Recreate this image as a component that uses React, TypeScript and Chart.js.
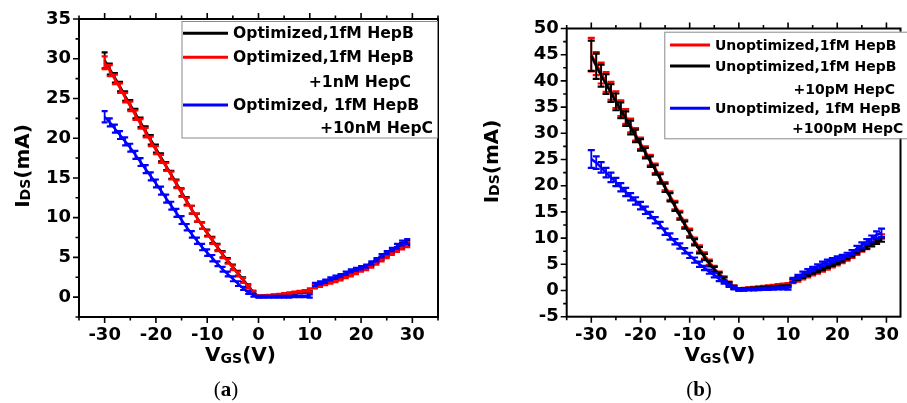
import React, { useEffect, useRef } from 'react';
import { Chart, registerables } from 'chart.js';
Chart.register(...registerables);

// ---------------- data ----------------
const VGS_1 = [-30, -29, -28, -27, -26, -25, -24, -23, -22, -21, -20, -19, -18, -17, -16, -15, -14, -13, -12, -11, -10, -9, -8, -7, -6, -5, -4, -3, -2, -1, 0, 1, 2, 3, 4, 5, 6, 7, 8, 9, 10];
const VGS_2 = [11, 12, 13, 14, 15, 16, 17, 18, 19, 20, 21, 22, 23, 24, 25, 26, 27, 28, 29];
const VGS_GAP = 10.5;

const X_TICKS = [-30, -20, -10, 0, 10, 20, 30];
const Y_TICKS_A = [0, 5, 10, 15, 20, 25, 30, 35];
const Y_TICKS_B = [-5, 0, 5, 10, 15, 20, 25, 30, 35, 40, 45, 50];

// Panel (a)
const A_BLACK_1 = [29.8, 28.7, 27.6, 26.5, 25.3, 24.2, 23.1, 22.0, 20.9, 19.8, 18.7, 17.6, 16.5, 15.4, 14.3, 13.2, 12.1, 11.0, 10.0, 9.0, 8.1, 7.2, 6.3, 5.4, 4.6, 3.8, 3.0, 2.2, 1.4, 0.6, 0.1, 0.1, 0.15, 0.2, 0.25, 0.3, 0.4, 0.5, 0.6, 0.65, 0.7];
const A_BLACK_2 = [1.4, 1.6, 1.8, 2.0, 2.2, 2.5, 2.7, 3.0, 3.3, 3.5, 3.8, 4.1, 4.5, 4.9, 5.3, 5.7, 6.1, 6.5, 6.8];
const A_BLACK_ERR_1 = [1.0, 0.7, 0.6, 0.6, 0.6, 0.6, 0.6, 0.6, 0.6, 0.6, 0.5, 0.5, 0.5, 0.5, 0.5, 0.5, 0.5, 0.5, 0.5, 0.4, 0.4, 0.4, 0.4, 0.4, 0.3, 0.3, 0.3, 0.3, 0.2, 0.2, 0.1, 0.1, 0.1, 0.1, 0.1, 0.1, 0.1, 0.1, 0.1, 0.1, 0.1];
const A_BLACK_ERR_2 = [0.2, 0.2, 0.2, 0.2, 0.2, 0.2, 0.2, 0.2, 0.2, 0.2, 0.2, 0.2, 0.2, 0.2, 0.2, 0.2, 0.2, 0.3, 0.3];

const A_RED_1 = [29.5, 28.5, 27.4, 26.3, 25.1, 24.0, 22.9, 21.8, 20.7, 19.6, 18.5, 17.4, 16.4, 15.3, 14.2, 13.1, 12.0, 11.0, 10.0, 9.0, 8.0, 7.1, 6.2, 5.3, 4.5, 3.7, 2.9, 2.1, 1.3, 0.6, 0.1, 0.15, 0.2, 0.25, 0.3, 0.4, 0.5, 0.6, 0.7, 0.8, 0.9];
const A_RED_2 = [1.3, 1.5, 1.7, 1.9, 2.1, 2.3, 2.6, 2.8, 3.1, 3.4, 3.6, 3.9, 4.3, 4.7, 5.1, 5.5, 5.9, 6.3, 6.6];
const A_RED_ERR_1 = [0.8, 0.7, 0.6, 0.6, 0.6, 0.6, 0.6, 0.6, 0.6, 0.6, 0.5, 0.5, 0.5, 0.5, 0.5, 0.5, 0.5, 0.5, 0.5, 0.4, 0.4, 0.4, 0.4, 0.4, 0.3, 0.3, 0.3, 0.3, 0.2, 0.2, 0.1, 0.1, 0.1, 0.1, 0.1, 0.1, 0.1, 0.1, 0.1, 0.1, 0.2];
const A_RED_ERR_2 = [0.2, 0.2, 0.2, 0.2, 0.2, 0.2, 0.2, 0.2, 0.2, 0.2, 0.2, 0.2, 0.2, 0.2, 0.2, 0.2, 0.2, 0.3, 0.3];

const A_BLUE_1 = [22.7, 22.0, 21.2, 20.4, 19.6, 18.8, 17.9, 17.0, 16.1, 15.2, 14.3, 13.4, 12.4, 11.5, 10.6, 9.7, 8.8, 7.9, 7.1, 6.3, 5.6, 4.9, 4.2, 3.5, 2.9, 2.3, 1.7, 1.1, 0.6, 0.25, 0.05, 0.05, 0.05, 0.05, 0.05, 0.05, 0.05, 0.1, 0.1, 0.1, 0.15];
const A_BLUE_2 = [1.6, 1.8, 2.0, 2.3, 2.5, 2.7, 3.0, 3.3, 3.5, 3.7, 3.9, 4.3, 4.7, 5.2, 5.6, 6.0, 6.4, 6.8, 7.0];
const A_BLUE_ERR_1 = [0.7, 0.5, 0.5, 0.5, 0.5, 0.5, 0.5, 0.5, 0.5, 0.5, 0.5, 0.5, 0.5, 0.5, 0.5, 0.5, 0.4, 0.4, 0.4, 0.4, 0.4, 0.4, 0.3, 0.3, 0.3, 0.3, 0.3, 0.2, 0.2, 0.2, 0.1, 0.1, 0.1, 0.1, 0.1, 0.1, 0.1, 0.1, 0.1, 0.1, 0.2];
const A_BLUE_ERR_2 = [0.2, 0.2, 0.2, 0.2, 0.2, 0.2, 0.2, 0.2, 0.2, 0.2, 0.2, 0.2, 0.2, 0.2, 0.2, 0.2, 0.3, 0.3, 0.3];

// Panel (b)
const B_RED_1 = [45.0, 43.3, 41.5, 39.8, 38.1, 36.4, 34.8, 33.2, 31.5, 29.8, 28.1, 26.5, 24.9, 23.3, 21.6, 19.9, 18.1, 16.3, 14.5, 12.8, 11.1, 9.5, 8.0, 6.7, 5.4, 4.2, 3.2, 2.3, 1.4, 0.7, 0.2, 0.3, 0.4, 0.5, 0.6, 0.7, 0.8, 0.9, 1.0, 1.1, 1.2];
const B_RED_2 = [1.7, 2.0, 2.4, 2.8, 3.2, 3.5, 3.9, 4.3, 4.7, 5.1, 5.5, 6.0, 6.5, 7.1, 7.7, 8.3, 8.9, 9.6, 10.3];
const B_RED_ERR_1 = [3.2, 2.2, 2.0, 1.9, 1.7, 1.6, 1.5, 1.4, 1.3, 1.2, 1.1, 1.0, 1.0, 0.9, 0.9, 0.8, 0.8, 0.8, 0.7, 0.7, 0.7, 0.6, 0.6, 0.6, 0.5, 0.5, 0.4, 0.4, 0.3, 0.3, 0.2, 0.2, 0.2, 0.2, 0.2, 0.2, 0.2, 0.2, 0.2, 0.2, 0.2];
const B_RED_ERR_2 = [0.3, 0.3, 0.3, 0.3, 0.3, 0.3, 0.3, 0.3, 0.3, 0.3, 0.3, 0.3, 0.3, 0.3, 0.3, 0.4, 0.4, 0.4, 0.4];

const B_BLACK_1 = [44.8, 42.8, 41.0, 39.4, 37.7, 36.0, 34.4, 32.8, 31.1, 29.5, 27.8, 26.2, 24.6, 23.0, 21.3, 19.6, 17.8, 16.0, 14.2, 12.5, 10.8, 9.2, 7.7, 6.4, 5.1, 4.0, 3.0, 2.1, 1.3, 0.6, 0.15, 0.2, 0.3, 0.35, 0.4, 0.5, 0.55, 0.6, 0.7, 0.75, 0.8];
const B_BLACK_2 = [1.9, 2.3, 2.7, 3.1, 3.5, 3.8, 4.2, 4.6, 5.0, 5.4, 5.8, 6.3, 6.8, 7.4, 7.9, 8.4, 8.8, 9.3, 9.7];
const B_BLACK_ERR_1 = [2.9, 2.4, 2.1, 1.9, 1.7, 1.6, 1.5, 1.4, 1.3, 1.2, 1.1, 1.0, 1.0, 0.9, 0.9, 0.8, 0.8, 0.8, 0.7, 0.7, 0.7, 0.6, 0.6, 0.6, 0.5, 0.5, 0.4, 0.4, 0.3, 0.3, 0.2, 0.2, 0.2, 0.2, 0.2, 0.2, 0.2, 0.2, 0.2, 0.2, 0.2];
const B_BLACK_ERR_2 = [0.3, 0.3, 0.3, 0.3, 0.3, 0.3, 0.3, 0.3, 0.3, 0.3, 0.3, 0.3, 0.3, 0.3, 0.3, 0.4, 0.4, 0.4, 0.4];

const B_BLUE_1 = [25.1, 24.4, 23.5, 22.5, 21.6, 20.7, 19.7, 18.8, 17.9, 17.1, 16.2, 15.3, 14.4, 13.4, 12.5, 11.2, 10.3, 9.3, 8.5, 7.6, 6.7, 5.8, 5.0, 4.3, 3.6, 2.9, 2.2, 1.6, 1.0, 0.5, 0.2, 0.15, 0.2, 0.2, 0.25, 0.3, 0.3, 0.35, 0.4, 0.4, 0.45];
const B_BLUE_2 = [2.0, 2.6, 3.2, 3.7, 4.1, 4.6, 5.1, 5.5, 5.8, 6.1, 6.4, 6.8, 7.3, 8.0, 8.7, 9.3, 9.9, 10.6, 11.0];
const B_BLUE_ERR_1 = [1.7, 1.2, 1.0, 0.9, 0.9, 0.8, 0.8, 0.8, 0.7, 0.7, 0.7, 0.7, 0.6, 0.6, 0.6, 0.6, 0.6, 0.5, 0.5, 0.5, 0.5, 0.5, 0.5, 0.4, 0.4, 0.4, 0.4, 0.3, 0.3, 0.3, 0.2, 0.2, 0.2, 0.2, 0.2, 0.2, 0.2, 0.2, 0.2, 0.2, 0.3];
const B_BLUE_ERR_2 = [0.4, 0.4, 0.4, 0.4, 0.4, 0.4, 0.4, 0.4, 0.4, 0.4, 0.4, 0.4, 0.4, 0.5, 0.5, 0.5, 0.6, 0.7, 0.8];

const LEGEND_A_1 = ['Optimized,1fM HepB', 'Optimized,1fM HepB', 'Optimized, 1fM HepB'];
const LEGEND_A_2 = ['', '+1nM HepC', '+10nM HepC'];
const LEGEND_B_1 = ['Unoptimized,1fM HepB', 'Unoptimized,1fM HepB', 'Unoptimized, 1fM HepB'];
const LEGEND_B_2 = ['', '+10pM HepC', '+100pM HepC'];

// ---------------- helpers ----------------
const FONT = '"DejaVu Sans", "Liberation Sans", Arial, sans-serif';
const BLACK = '#000000';
const RED = '#ff0000';
const BLUE = '#0000ff';

function buildPoints(v1: number[], v2: number[]) {
  return [
    ...VGS_1.map((x, i) => ({ x, y: v1[i] })),
    { x: VGS_GAP, y: null },
    ...VGS_2.map((x, i) => ({ x, y: v2[i] })),
  ];
}
function buildErr(e1: number[], e2: number[]) {
  return [...e1, 0, ...e2];
}

function makeDataset(color: string, v1: number[], v2: number[], e1: number[], e2: number[], order: number, capHalf: number) {
  return {
    data: buildPoints(v1, v2),
    errors: buildErr(e1, e2),
    capHalf,
    borderColor: color,
    backgroundColor: color,
    borderWidth: 2.5,
    pointRadius: 0,
    tension: 0,
    spanGaps: false,
    order,
  } as any;
}

const errorBarPlugin = {
  id: 'errorBars',
  afterDatasetDraw(chart: any, args: any) {
    const ds: any = chart.data.datasets[args.index];
    if (!ds.errors) return;
    const meta = args.meta;
    const ys = chart.scales.y;
    const ctx = chart.ctx;
    const a = chart.chartArea;
    ctx.save();
    ctx.beginPath();
    ctx.rect(a.left, a.top, a.right - a.left, a.bottom - a.top);
    ctx.clip();
    ctx.strokeStyle = ds.borderColor;
    const cw = ds.capHalf;
    ds.data.forEach((p: any, i: number) => {
      const e = ds.errors[i];
      if (p.y == null || !e) return;
      const el = meta.data[i];
      if (!el) return;
      const px = el.x;
      const yt = ys.getPixelForValue(p.y + e);
      const yb = ys.getPixelForValue(p.y - e);
      ctx.lineWidth = 1.8;
      ctx.beginPath();
      ctx.moveTo(px, yt);
      ctx.lineTo(px, yb);
      ctx.stroke();
      ctx.lineWidth = 2.2;
      ctx.beginPath();
      ctx.moveTo(px - cw, yt);
      ctx.lineTo(px + cw, yt);
      ctx.moveTo(px - cw, yb);
      ctx.lineTo(px + cw, yb);
      ctx.stroke();
    });
    ctx.restore();
  },
};

type Part = { t: string; size: number; dy: number };
function drawRich(ctx: CanvasRenderingContext2D, parts: Part[], cx: number, y: number) {
  let total = 0;
  const widths = parts.map((p) => {
    ctx.font = `bold ${p.size}px ${FONT}`;
    const w = ctx.measureText(p.t).width;
    total += w;
    return w;
  });
  let x = cx - total / 2;
  ctx.textAlign = 'left';
  ctx.textBaseline = 'alphabetic';
  parts.forEach((p, i) => {
    ctx.font = `bold ${p.size}px ${FONT}`;
    ctx.fillText(p.t, x, y + p.dy);
    x += widths[i];
  });
}

function makeDecorPlugin(spec: any) {
  return {
    id: 'decor',
    afterDraw(chart: any) {
      const ctx: CanvasRenderingContext2D = chart.ctx;
      const a = chart.chartArea;
      const xs = chart.scales.x;
      const ys = chart.scales.y;
      ctx.save();
      ctx.strokeStyle = '#000';
      ctx.fillStyle = '#000';
      // frame
      ctx.lineWidth = 2;
      ctx.strokeRect(a.left, a.top, a.right - a.left, a.bottom - a.top);
      // ticks
      ctx.lineWidth = 1.6;
      ctx.beginPath();
      for (let v = spec.yMin; v <= spec.yMax + 1e-6; v += spec.yMinor) {
        const major = Math.abs(v / spec.yMajor - Math.round(v / spec.yMajor)) < 1e-6;
        const len = major ? 6 : 3.5;
        const py = ys.getPixelForValue(v);
        ctx.moveTo(a.left, py);
        ctx.lineTo(a.left - len, py);
      }
      for (let v = spec.xMin; v <= spec.xMax + 1e-6; v += spec.xMinor) {
        const major = Math.abs(v / spec.xMajor - Math.round(v / spec.xMajor)) < 1e-6;
        const len = major ? 6 : 3.5;
        const px = xs.getPixelForValue(v);
        ctx.moveTo(px, a.bottom);
        ctx.lineTo(px, a.bottom + len);
        ctx.moveTo(px, a.top);
        ctx.lineTo(px, a.top - len);
      }
      ctx.stroke();

      // legend box
      const [bx0, by0, bx1, by1] = spec.legendBox;
      ctx.lineWidth = 1;
      ctx.strokeStyle = '#8a8a8a';
      ctx.fillStyle = '#ffffff';
      ctx.fillRect(bx0, by0, bx1 - bx0, by1 - by0);
      ctx.strokeRect(bx0 + 0.5, by0 + 0.5, bx1 - bx0, by1 - by0);
      ctx.fillStyle = '#000';
      ctx.font = `bold ${spec.legendFont}px ${FONT}`;
      ctx.textBaseline = 'middle';
      spec.legend1.forEach((label: string, i: number) => {
        const y = spec.rows[i];
        ctx.strokeStyle = spec.colors[i];
        ctx.lineWidth = 3;
        ctx.beginPath();
        ctx.moveTo(spec.sample[0], y);
        ctx.lineTo(spec.sample[1], y);
        ctx.stroke();
        ctx.textAlign = 'left';
        ctx.fillText(label, spec.textX, y + 1);
        const cont = spec.legend2[i];
        if (cont) {
          ctx.textAlign = 'right';
          ctx.fillText(cont, spec.contRight[i], spec.contRows[i] + 1);
        }
      });

      // y title (rotated)
      ctx.save();
      ctx.translate(spec.yTitle.x, spec.yTitle.y);
      ctx.rotate(-Math.PI / 2);
      drawRich(ctx, [
        { t: 'I', size: 20, dy: 0 },
        { t: 'DS', size: 14, dy: 1 },
        { t: '(mA)', size: 20, dy: 0 },
      ], 0, 0);
      ctx.restore();

      // x title
      drawRich(ctx, [
        { t: 'V', size: 20, dy: 0 },
        { t: 'GS', size: 14, dy: 2 },
        { t: '(V)', size: 20, dy: 0 },
      ], spec.xTitle.x, spec.xTitle.y);

      // caption
      const serif = '"Liberation Serif", "DejaVu Serif", serif';
      const fs = 21;
      ctx.textBaseline = 'alphabetic';
      ctx.textAlign = 'left';
      ctx.font = `${fs}px ${serif}`;
      const wp = ctx.measureText('(').width;
      const wp2 = ctx.measureText(')').width;
      ctx.font = `bold ${fs}px ${serif}`;
      const wl = ctx.measureText(spec.caption.letter).width;
      let cx = spec.caption.x - (wp + wl + wp2) / 2;
      ctx.font = `${fs}px ${serif}`;
      ctx.fillText('(', cx, spec.caption.y);
      cx += wp;
      ctx.font = `bold ${fs}px ${serif}`;
      ctx.fillText(spec.caption.letter, cx, spec.caption.y);
      cx += wl;
      ctx.font = `${fs}px ${serif}`;
      ctx.fillText(')', cx, spec.caption.y);
      ctx.restore();
    },
  };
}

const PANEL_A = {
  left: 0, width: 453, height: 403,
  pad: { left: 0, right: 15, top: 19, bottom: 0 },
  yAxisWidth: 79, xAxisHeight: 86,
  xMin: -35, xMax: 35, yMin: -2.5, yMax: 35,
  yMajor: 5, yMinor: 2.5, xMajor: 10, xMinor: 5,
  yTicks: Y_TICKS_A,
  legendBox: [181.5, 21, 437, 137.5],
  legendFont: 15.6,
  sample: [183, 228], textX: 233,
  rows: [33.3, 57.3, 105], contRows: [0, 81.7, 128.3], contRight: [0, 411, 433],
  legend1: LEGEND_A_1, legend2: LEGEND_A_2,
  colors: [BLACK, RED, BLUE],
  yTitle: { x: 29, y: 166 }, xTitle: { x: 240.5, y: 361 },
  caption: { x: 226, y: 396, letter: 'a' },
  datasets: () => [
    makeDataset(BLACK, A_BLACK_1, A_BLACK_2, A_BLACK_ERR_1, A_BLACK_ERR_2, 3, 3),
    makeDataset(RED, A_RED_1, A_RED_2, A_RED_ERR_1, A_RED_ERR_2, 2, 3),
    makeDataset(BLUE, A_BLUE_1, A_BLUE_2, A_BLUE_ERR_1, A_BLUE_ERR_2, 1, 3),
  ],
};

const PANEL_B = {
  left: 453, width: 454, height: 403,
  pad: { left: 0, right: 1, top: 28.5, bottom: 0 },
  yAxisWidth: 113.7, xAxisHeight: 86.3,
  xMin: -35, xMax: 32.86, yMin: -5, yMax: 50,
  yMajor: 5, yMinor: 2.5, xMajor: 10, xMinor: 5,
  yTicks: Y_TICKS_B,
  legendBox: [211.3, 31.7, 470, 138.3],
  legendFont: 14,
  sample: [217, 257], textX: 262,
  rows: [45, 66, 108.3], contRows: [0, 89.3, 128.3], contRight: [0, 442, 450.3],
  legend1: LEGEND_B_1, legend2: LEGEND_B_2,
  colors: [RED, BLACK, BLUE],
  yTitle: { x: 45, y: 161.5 }, xTitle: { x: 267, y: 361 },
  caption: { x: 246, y: 396, letter: 'b' },
  datasets: () => [
    makeDataset(RED, B_RED_1, B_RED_2, B_RED_ERR_1, B_RED_ERR_2, 3, 3.5),
    makeDataset(BLACK, B_BLACK_1, B_BLACK_2, B_BLACK_ERR_1, B_BLACK_ERR_2, 2, 3.5),
    makeDataset(BLUE, B_BLUE_1, B_BLUE_2, B_BLUE_ERR_1, B_BLUE_ERR_2, 1, 3.5),
  ],
};

function Panel({ spec }: { spec: any }) {
  const ref = useRef<HTMLCanvasElement>(null);
  useEffect(() => {
    if (!ref.current) return;
    const tickFont = { family: FONT, size: 18, weight: 'bold' as const };
    const chart = new Chart(ref.current, {
      type: 'line',
      data: { datasets: spec.datasets() },
      options: {
        animation: false,
        responsive: false,
        devicePixelRatio: 1,
        layout: { padding: spec.pad },
        plugins: { legend: { display: false }, tooltip: { enabled: false } },
        scales: {
          x: {
            type: 'linear',
            min: spec.xMin,
            max: spec.xMax,
            afterFit: (s: any) => { s.height = spec.xAxisHeight; },
            afterBuildTicks: (s: any) => { s.ticks = X_TICKS.map((v) => ({ value: v })); },
            ticks: { font: tickFont, color: '#000', padding: 8, maxRotation: 0, autoSkip: false },
            grid: { display: false, drawTicks: false },
            border: { display: false },
          },
          y: {
            type: 'linear',
            min: spec.yMin,
            max: spec.yMax,
            afterFit: (s: any) => { s.width = spec.yAxisWidth; },
            afterBuildTicks: (s: any) => { s.ticks = spec.yTicks.map((v: number) => ({ value: v })); },
            ticks: { font: tickFont, color: '#000', padding: 8, autoSkip: false },
            grid: { display: false, drawTicks: false },
            border: { display: false },
          },
        },
      } as any,
      plugins: [errorBarPlugin as any, makeDecorPlugin(spec) as any],
    });
    return () => chart.destroy();
  }, []);
  return (
    <canvas
      ref={ref}
      width={spec.width}
      height={spec.height}
      style={{ position: 'absolute', left: spec.left, top: 0, width: spec.width, height: spec.height }}
    />
  );
}

export default function App() {
  return (
    <div style={{ position: 'absolute', left: 0, top: 0, width: 907, height: 403, background: '#fff', overflow: 'hidden' }}>
      <Panel spec={PANEL_A} />
      <Panel spec={PANEL_B} />
    </div>
  );
}
